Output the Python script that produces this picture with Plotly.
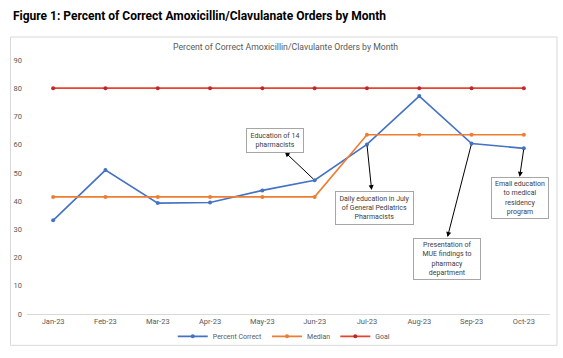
import plotly.graph_objects as go

months = ["Jan-23", "Feb-23", "Mar-23", "Apr-23", "May-23", "Jun-23",
          "Jul-23", "Aug-23", "Sep-23", "Oct-23"]
percent_correct = [33.2, 51.0, 39.3, 39.5, 43.8, 47.4, 60.1, 77.2, 60.4, 58.7]
median = [41.5, 41.5, 41.5, 41.5, 41.5, 41.5, 63.5, 63.5, 63.5, 63.5]
goal = [80, 80, 80, 80, 80, 80, 80, 80, 80, 80]

notes = [
    ("Education of 14<br>pharmacists", 5, 4.25, 61.4, 4.43, 57.4, 54, 21),
    ("Daily education in July<br>of General Pediatrics<br>Pharmacists", 6, 6.14, 37.5, 6.09, 43.9, 75, 30),
    ("Presentation of<br>MUE findings to<br>pharmacy<br>department", 8, 7.54, 19.4, 7.54, 27.3, 64, 38),
    ("Email education<br>to medical<br>residency<br>program", 9, 8.92, 41.0, 8.92, 48.6, 54, 38),
]

FONT = "Roboto, sans-serif"
GRAY = "#595959"

fig = go.Figure()
fig.add_trace(go.Scatter(x=months, y=percent_correct, name="Percent Correct",
                         mode="lines+markers",
                         line=dict(color="#4472C4", width=1.6),
                         marker=dict(color="#4472C4", size=4)))
fig.add_trace(go.Scatter(x=months, y=median, name="Median",
                         mode="lines+markers",
                         line=dict(color="#ED7D31", width=1.6),
                         marker=dict(color="#ED7D31", size=4)))
fig.add_trace(go.Scatter(x=months, y=goal, name="Goal",
                         mode="lines+markers",
                         line=dict(color="#E5452E", width=1.8),
                         marker=dict(color="#C0272D", size=4)))


def px_x(px):
    return (px - 26.5) / 523.5


def px_y(py):
    return (313.7 - py) / 253.7


annotations = []
for text, idx, bx, by, hx, hy, w, h in notes:
    yv = percent_correct[idx]
    annotations.append(dict(x=hx, y=hy, ax=idx, ay=yv, xref="x", yref="y",
                            axref="x", ayref="y", text="", showarrow=True,
                            arrowhead=2, arrowsize=1, arrowwidth=1,
                            arrowcolor="#000000"))
    annotations.append(dict(x=bx, y=by, xref="x", yref="y", text=text,
                            showarrow=False, width=w, height=h,
                            bordercolor="#A6A6A6", borderwidth=1,
                            bgcolor="white", align="center",
                            font=dict(family=FONT, size=7, color="#404040")))

annotations.append(dict(x=px_x(10), y=px_y(16), xref="paper", yref="paper",
                        text="<b>Figure 1: Percent of Correct Amoxicillin/Clavulanate Orders by Month</b>",
                        showarrow=False, xanchor="left", yanchor="middle",
                        font=dict(family=FONT, size=12, color="#000000")))
annotations.append(dict(x=px_x(285), y=px_y(47), xref="paper", yref="paper",
                        text="Percent of Correct Amoxicillin/Clavulante Orders by Month",
                        showarrow=False, xanchor="center", yanchor="middle",
                        font=dict(family=FONT, size=8.7, color=GRAY)))

fig.update_layout(
    width=563, height=358,
    margin=dict(l=26.5, r=13, t=60, b=44.3, autoexpand=False),
    paper_bgcolor="white", plot_bgcolor="white",
    font=dict(family=FONT, size=8, color=GRAY),
    showlegend=True,
    legend=dict(orientation="h", x=px_x(284), xanchor="center", y=px_y(336),
                yanchor="middle", font=dict(size=7, color=GRAY),
                bgcolor="rgba(0,0,0,0)", itemwidth=30, tracegroupgap=0),
    xaxis=dict(range=[-0.5, 9.5], showgrid=False, showline=True,
               linecolor="#D9D9D9", linewidth=1, ticks="", zeroline=False,
               tickfont=dict(size=7.5, color=GRAY)),
    yaxis=dict(range=[0, 90], dtick=10, showgrid=False, zeroline=False,
               showline=False, ticks="", ticklabelstandoff=4,
               tickfont=dict(size=7.5, color=GRAY)),
    annotations=annotations,
)

fig.add_shape(type="rect", xref="paper", yref="paper",
              x0=px_x(10), x1=px_x(557), y0=px_y(345), y1=px_y(37),
              line=dict(color="#D9D9D9", width=1), fillcolor="rgba(0,0,0,0)",
              layer="below")

fig.write_html("out.html", config={"displayModeBar": False},
               post_script="document.body.style.margin='0';document.body.style.overflow='hidden';")
